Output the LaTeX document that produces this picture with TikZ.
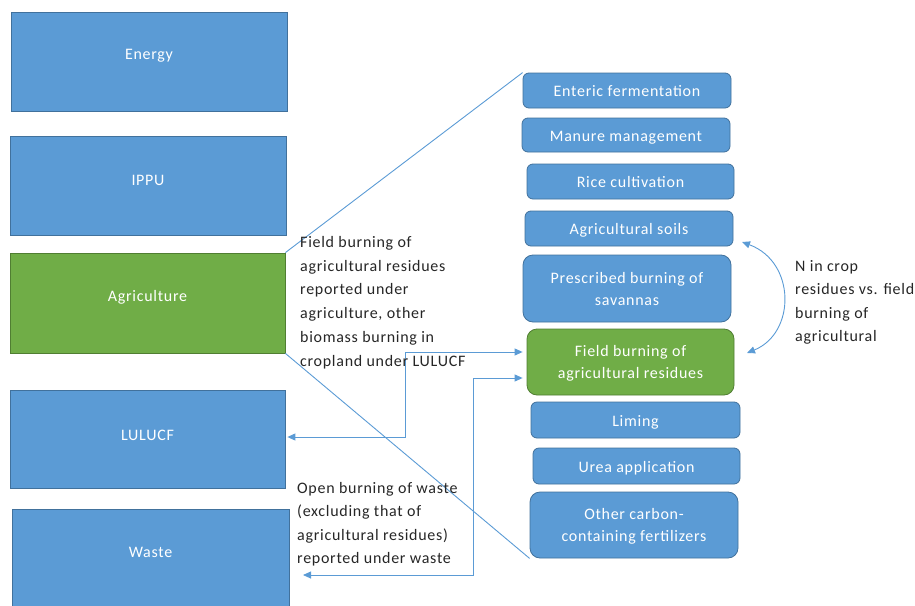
\documentclass[tikz,border=0pt]{standalone}
\usepackage{fontspec}
\setmainfont{Carlito}[LetterSpace=4.5]
\usetikzlibrary{arrows.meta,calc}
\definecolor{boxblue}{HTML}{5B9BD5}
\definecolor{boxblueedge}{HTML}{41719C}
\definecolor{boxgreen}{HTML}{70AD47}
\definecolor{boxgreenedge}{HTML}{507E32}
\definecolor{linkblue}{HTML}{5B9BD5}
\definecolor{notegray}{HTML}{262626}

\begin{document}
\begin{tikzpicture}[x=1pt,y=-1pt,
  sector/.style={draw=boxblueedge, fill=boxblue, line width=0.8pt, inner sep=0pt},
  sectorgreen/.style={sector, draw=boxgreenedge, fill=boxgreen},
  sectorlabel/.style={text=white, font=\fontsize{16}{18}\selectfont, inner sep=0pt},
  category/.style={draw=boxblueedge, fill=boxblue, line width=0.8pt, rounded corners=6pt,
    text=white, align=center, inner sep=0pt, text depth=0pt,
    font=\fontsize{16}{22}\selectfont},
  singleline/.style={text height=12pt},
  categorygreen/.style={category, draw=boxgreenedge, fill=boxgreen},
  note/.style={text=notegray, align=left, anchor=north west, inner sep=0pt,
    font=\fontsize{16}{23.5}\selectfont},
  link/.style={draw=linkblue, line width=0.9pt},
  linktips/.style={{Triangle[length=8,width=7]}-{Triangle[length=8,width=7]}}
]
\useasboundingbox (0,0) rectangle (915,605);

% IPCC sectors (left column)
\node[sector, minimum width=276, minimum height=99] (energy) at (149,61.5) {};
\node[sector, minimum width=276, minimum height=99] (ippu) at (148,185.5) {};
\node[sectorgreen, minimum width=275, minimum height=100] (agri) at (147.5,303) {};
\node[sector, minimum width=275, minimum height=98] (lulucf) at (147.5,439) {};
\node[sector, minimum width=277, minimum height=100] (waste) at (150.5,559) {};

\node[sectorlabel] (energyt) at (149,56) {Energy};
\node[sectorlabel] (ippt) at (148,180) {IPPU};
\node[sectorlabel] (agrit) at (147.5,297) {Agriculture};
\node[sectorlabel] (lulucft) at (147.5,435) {LULUCF};
\node[sectorlabel] (wastet) at (150.5,552) {Waste};

% Agriculture categories (right column)
\node[category, singleline, minimum width=208, minimum height=35] (enteric) at (627,90.5) {Enteric fermentation};
\node[category, singleline, minimum width=208, minimum height=34] (manure) at (626,135) {Manure management};
\node[category, singleline, minimum width=207, minimum height=35] (rice) at (630.5,181.5) {Rice cultivation};
\node[category, singleline, minimum width=208, minimum height=35] (soils) at (629,228.5) {Agricultural soils};
\node[category, rounded corners=10pt, minimum width=208, minimum height=67] (savanna) at (627,288.5) {Prescribed burning of\\savannas};
\node[categorygreen, rounded corners=10pt, minimum width=207, minimum height=66] (fb) at (630.5,362) {Field burning of\\agricultural residues};
\node[category, singleline, minimum width=209, minimum height=36] (liming) at (635.5,420) {Liming};
\node[category, singleline, minimum width=207, minimum height=36] (urea) at (636.5,466) {Urea application};
\node[category, rounded corners=10pt, minimum width=208, minimum height=66] (other) at (634,525) {Other carbon-\\containing fertilizers};

% Bracket lines from Agriculture to its categories
\draw[link] (agri.north east) -- (enteric.north west);
\draw[link] (agri.south east) -- (other.south west);

% Elbow connectors between field burning and LULUCF / Waste
\coordinate (fbin1) at ($(fb.west)+(-4,-10)$);
\coordinate (fbin2) at ($(fb.west)+(-4,16)$);
\coordinate (elbow1) at (405,352);
\coordinate (elbow2) at (473,378);
\coordinate (wastein) at (303,575);
\draw[link, linktips] (fbin1) -- (elbow1) |- ($(lulucf.east)+(2,-2)$);
\draw[link, linktips] (fbin2) -- (elbow2) |- (wastein);

% Curved link between agricultural soils and field burning
\coordinate (soilsin) at (742,242);
\coordinate (fbout) at (747,353);
\draw[link, linktips] (soilsin) .. controls (796,262) and (796,333) .. (fbout);

% Notes
\node[note, font=\fontsize{16}{23.8}\selectfont] (notelulucf) at (300,236) {Field burning of\\agricultural residues\\reported under\\agriculture, other\\biomass burning in\\cropland under LULUCF};
\node[note] (notewaste) at (297,482) {Open burning of waste\\(excluding that of\\agricultural residues)\\reported under waste};
\node[note] (notesoils) at (795,260) {N in crop\\residues vs. field\\burning of\\agricultural};
\end{tikzpicture}
\end{document}
